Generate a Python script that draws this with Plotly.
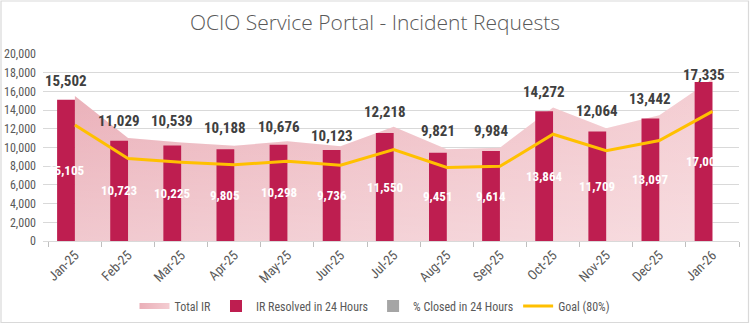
import plotly.graph_objects as go

months = ["Jan-25", "Feb-25", "Mar-25", "Apr-25", "May-25", "Jun-25", "Jul-25",
          "Aug-25", "Sep-25", "Oct-25", "Nov-25", "Dec-25", "Jan-26"]
total_ir = [15502, 11029, 10539, 10188, 10676, 10123, 12218, 9821, 9984, 14272, 12064, 13442, 17335]
resolved_24h = [15105, 10723, 10225, 9805, 10298, 9736, 11550, 9451, 9614, 13864, 11709, 13097, 17004]
closed_pct = [0] * len(months)
goal = [round(v * 0.8) for v in total_ir]
y_ticks = list(range(0, 20001, 2000))

# layout in pixels
L, R, T, B = 43, 11, 54, 83
W, H = 750 - L - R, 324 - T - B

GRAY = "#595959"
NARROW = "Liberation Sans Narrow, Roboto Condensed, Roboto, sans-serif"

fig = go.Figure()

# Total IR area (main axis, drawn below bars)
fig.add_trace(go.Scatter(
    x=months, y=total_ir, name="Total IR", mode="none", fill="tozeroy",
    fillgradient=dict(type="horizontal",
                      colorscale=[[0, "#eaafb8"], [1, "#f4cdd2"]]),
    hoverinfo="skip", yaxis="y", legendrank=1))
fig.add_trace(go.Scatter(
    x=months, y=total_ir, mode="none", fill="tozeroy", showlegend=False,
    fillgradient=dict(type="vertical", start=0, stop=max(total_ir),
                      colorscale=[[0, "rgba(255,255,255,0.32)"], [1, "rgba(255,255,255,0)"]]),
    hoverinfo="skip", yaxis="y"))

# bars (overlay axis)
fig.add_trace(go.Bar(x=months, y=resolved_24h, name="IR Resolved in 24 Hours",
                     marker=dict(color="#be1e50", line=dict(width=0)), yaxis="y2", legendrank=2))
fig.add_trace(go.Bar(x=months, y=closed_pct, name="% Closed in 24 Hours",
                     marker=dict(color="#a5a5a5", line=dict(width=0)), yaxis="y2", legendrank=3))

# goal line
fig.add_trace(go.Scatter(x=months, y=goal, name="Goal (80%)", mode="lines",
                         line=dict(color="#ffc000", width=3), yaxis="y2", legendrank=4))

# labels
label_shift = [15, 17, 21, 18, 14, 10, 15, 18, 17, 16, 17, 16, 4]
bar_off = -0.1675
for i, m in enumerate(months):
    fig.add_annotation(x=i + bar_off, y=total_ir[i], xref="x", yref="y",
                       text=f"{total_ir[i]:,}", showarrow=False, yshift=label_shift[i],
                       font=dict(family=NARROW, size=15, color="#404040", weight="bold"))
    fig.add_annotation(x=i + bar_off, y=resolved_24h[i] / 2, xref="x", yref="y",
                       text=f"{resolved_24h[i]:,}", showarrow=False,
                       font=dict(family=NARROW, size=13, color="white", weight="bold"))

# outer border
def px_x(p):
    return (p - L) / W

def px_y(p):
    return (324 - B - p) / H

fig.add_shape(type="rect", xref="paper", yref="paper",
              x0=px_x(1), x1=px_x(748.5), y0=px_y(322.5), y1=px_y(1),
              line=dict(color="#d9d9d9", width=1.2), fillcolor="rgba(0,0,0,0)", layer="below")

fig.update_layout(
    width=750, height=324,
    margin=dict(l=L, r=R, t=T, b=B, autoexpand=False),
    paper_bgcolor="white", plot_bgcolor="white",
    barmode="group", bargap=0.33, bargroupgap=0,
    title=dict(text="OCIO Service Portal - Incident Requests", x=0.5, xref="container",
               y=1 - 23 / 324, yref="container", yanchor="middle",
               font=dict(family="Open Sans, sans-serif", size=21, color=GRAY, weight=300)),
    xaxis=dict(type="category", tickangle=-45, tickson="boundaries", ticks="outside",
               ticklen=5, tickcolor="#bfbfbf", showline=True, linecolor="#d9d9d9",
               showgrid=False, automargin=False,
               tickfont=dict(family=NARROW, size=13.5, color=GRAY)),
    yaxis=dict(range=[0, 20000], tickvals=y_ticks, tickformat=",", showgrid=True,
               gridcolor="#d9d9d9", zeroline=False, showline=False, ticks="",
               ticklabelstandoff=6, automargin=False,
               tickfont=dict(family=NARROW, size=12, color=GRAY)),
    yaxis2=dict(range=[0, 20000], overlaying="y", showgrid=False, zeroline=False,
                showticklabels=False, showline=False),
    legend=dict(orientation="h", xref="container", yref="container", x=0.5, xanchor="center",
                y=18 / 324, yanchor="middle", font=dict(family=NARROW, size=12, color=GRAY),
                itemwidth=30, traceorder="normal"),
    showlegend=True,
)

fig.write_html("out.html")
